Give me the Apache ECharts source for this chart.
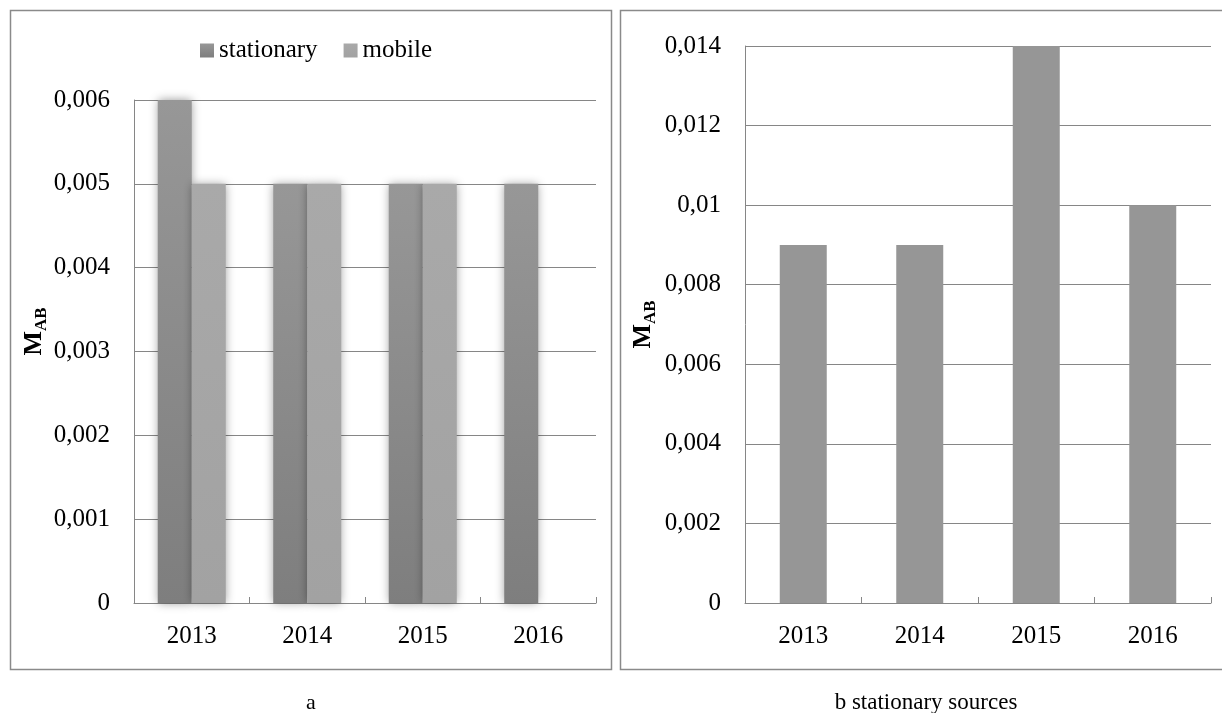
<!DOCTYPE html>
<html>
<head>
<meta charset="utf-8">
<script src="https://cdn.jsdelivr.net/npm/echarts@6/dist/echarts.min.js"></script>
<style>html,body{margin:0;padding:0;background:#fff;}#c{width:1222px;height:713px;}</style>
</head>
<body>
<div id="c"></div>
<script>
var categories = ['2013', '2014', '2015', '2016'];
var stationaryA = [0.006, 0.005, 0.005, 0.005];
var mobileA = [0.005, 0.005, 0.005, null];
var stationaryB = [0.009, 0.009, 0.014, 0.01];
var seriesNames = ['stationary', 'mobile'];
var captionA = 'a';
var captionB = 'b stationary sources';

var FONT = "'Liberation Serif', 'Times New Roman', serif";
function fmt(v) { return String(+v.toFixed(6)).replace('.', ','); }

var chart = echarts.init(document.getElementById('c'), null, {renderer: 'canvas'});
function yAxis(gi, max, interval, gap, shiftUp) {
  return {
    gridIndex: gi, type: 'value', min: 0, max: max, interval: interval,
    name: '{m|M}{s|AB}',
    nameLocation: 'middle',
    nameRotate: 90,
    nameGap: gap,
    nameTextStyle: {
      padding: [0, 0, 0, shiftUp],
      rich: {
        m: {fontFamily: FONT, fontSize: 26, fontWeight: 'bold', color: '#000', verticalAlign: 'top'},
        s: {fontFamily: FONT, fontSize: 17, fontWeight: 'bold', color: '#000', verticalAlign: 'bottom', padding: [12, 0, 0, 0]}
      }
    },
    axisLine: {show: true, lineStyle: {color: '#868686', width: 1}},
    axisTick: {show: false},
    axisLabel: {formatter: fmt, fontFamily: FONT, fontSize: 25, color: '#000', margin: 24},
    splitLine: {show: true, lineStyle: {color: '#868686', width: 1}}
  };
}
function xAxis(gi) {
  return {
    gridIndex: gi, type: 'category', data: categories,
    axisLine: {show: true, lineStyle: {color: '#868686', width: 1}},
    axisTick: {show: true, inside: true, length: 6, lineStyle: {color: '#868686'}},
    axisLabel: {fontFamily: FONT, fontSize: 25, color: '#000', margin: 21}
  };
}
var shadow = {shadowBlur: 9, shadowColor: 'rgba(0,0,0,0.4)', shadowOffsetX: 0, shadowOffsetY: 0};
var option = {
  animation: false,
  backgroundColor: '#fff',
  grid: [
    {left: 134, top: 100, right: 626, bottom: 110},
    {left: 745, top: 46, right: 11, bottom: 110}
  ],
  legend: {
    data: seriesNames,
    left: 195, top: 33,
    itemWidth: 14, itemHeight: 14, itemGap: 26,
    icon: 'rect',
    textStyle: {fontFamily: FONT, fontSize: 25, color: '#000'}
  },
  xAxis: [xAxis(0), xAxis(1)],
  yAxis: [yAxis(0, 0.006, 0.001, 82, 40), yAxis(1, 0.014, 0.002, 86, 0)],
  series: [
    {
      name: seriesNames[0], type: 'bar', xAxisIndex: 0, yAxisIndex: 0,
      data: stationaryA, barWidth: 34, barGap: '0%',
      itemStyle: Object.assign({color: new echarts.graphic.LinearGradient(0, 0, 0, 1, [
        {offset: 0, color: '#979797'}, {offset: 1, color: '#7e7e7e'}])}, shadow)
    },
    {
      name: seriesNames[1], type: 'bar', xAxisIndex: 0, yAxisIndex: 0,
      data: mobileA, barWidth: 34, barGap: '0%',
      itemStyle: Object.assign({color: new echarts.graphic.LinearGradient(0, 0, 0, 1, [
        {offset: 0, color: '#a9a9a9'}, {offset: 1, color: '#a2a2a2'}])}, shadow)
    },
    {
      name: 'stationaryB', type: 'bar', xAxisIndex: 1, yAxisIndex: 1,
      data: stationaryB, barWidth: 47,
      itemStyle: {color: '#969696'}
    }
  ],
  graphic: [
    {type: 'rect', z: -1, shape: {x: 10.5, y: 10.5, width: 601, height: 659}, style: {fill: 'none', stroke: '#8a8a8a', lineWidth: 1.5}},
    {type: 'rect', z: -1, shape: {x: 620.5, y: 10.5, width: 620, height: 659}, style: {fill: 'none', stroke: '#8a8a8a', lineWidth: 1.5}},
    {type: 'text', x: 311, y: 703, style: {text: captionA, font: "22px " + FONT, fill: '#000', textAlign: 'center', textVerticalAlign: 'middle'}},
    {type: 'text', x: 926, y: 703, style: {text: captionB, font: "23px " + FONT, fill: '#000', textAlign: 'center', textVerticalAlign: 'middle'}}
  ]
};
chart.setOption(option);
</script>
</body>
</html>
